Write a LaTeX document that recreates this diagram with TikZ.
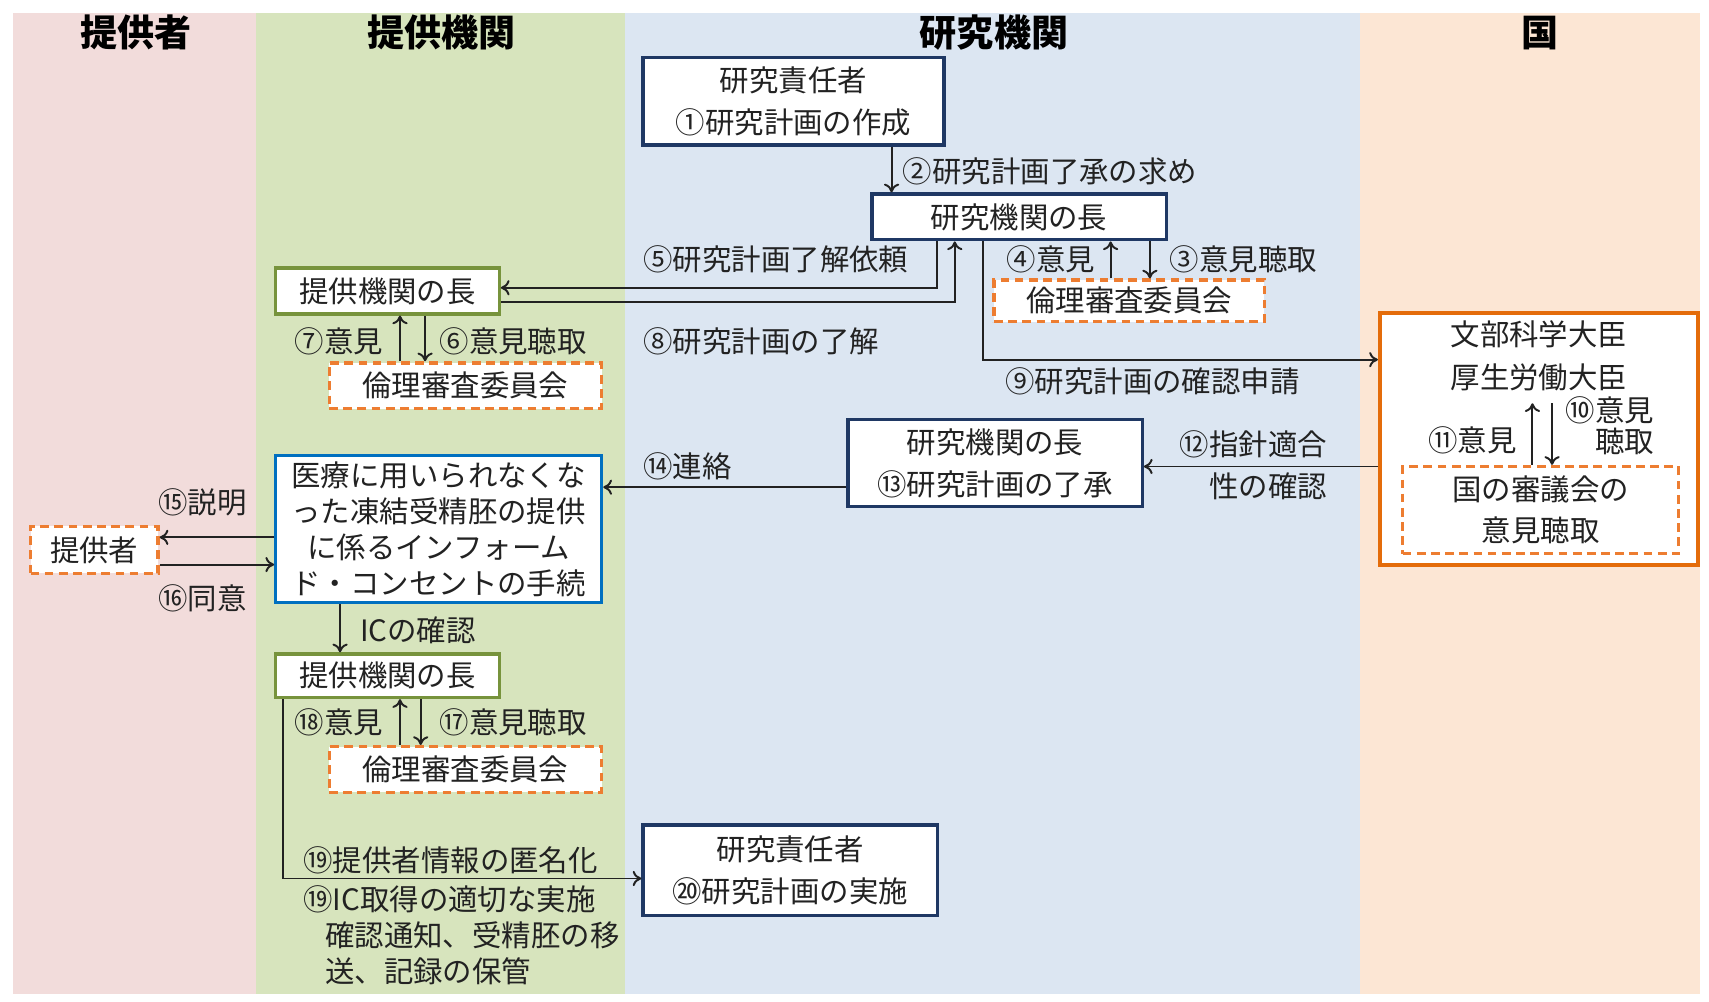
\documentclass[tikz,border=0pt]{standalone}
\usepackage{fontspec}
\newfontfamily\jp{Noto Sans CJK JP}
\usetikzlibrary{arrows.meta}
\definecolor{lanepink}{HTML}{F2DCDB}
\definecolor{lanegreen}{HTML}{D7E4BD}
\definecolor{laneblue}{HTML}{DCE6F2}
\definecolor{laneorange}{HTML}{FCE6D4}
\definecolor{navy}{HTML}{1F3864}
\definecolor{grnb}{HTML}{77933C}
\definecolor{blub}{HTML}{0070C0}
\definecolor{orgb}{HTML}{E46C0A}
\definecolor{orgd}{HTML}{ED7D31}
\definecolor{ink}{HTML}{222222}
\tikzset{
  txt/.style={font=\jp\fontsize{13.5}{19}\selectfont, text=ink, inner sep=0pt},
  hdr/.style={font=\jp\bfseries\fontsize{17}{20}\selectfont, text=black, inner sep=0pt},
  boxbase/.style={txt, fill=white, align=center, inner sep=0pt},
  navybox/.style={boxbase, draw=navy, line width=1.5pt},
  greenbox/.style={boxbase, draw=grnb, line width=1.5pt},
  bluebox/.style={boxbase, draw=blub, line width=1.5pt},
  orangebox/.style={boxbase, draw=orgb, line width=1.8pt},
  dashbox/.style={boxbase, draw=orgd, line width=1.5pt, dash pattern=on 4pt off 2.5pt},
  arr/.style={draw=ink, line width=0.9pt, -{To[length=4pt,width=7pt]}},
}
\begin{document}
\begin{tikzpicture}[x=0.5pt,y=-0.5pt]
\useasboundingbox (0,0) rectangle (1568,919);
\fill[white] (0,0) rectangle (1568,919);
% lanes
\fill[lanepink] (12,12) rectangle (235,912);
\fill[lanegreen] (235,12) rectangle (573,912);
\fill[laneblue] (573,12) rectangle (1248,912);
\fill[laneorange] (1248,12) rectangle (1560,912);
% headers
\node[hdr] (h1) at (125,30) {提供者};
\node[hdr] (h2) at (405,30) {提供機関};
\node[hdr] (h3) at (912,30) {研究機関};
\node[hdr] (h4) at (1413,30) {国};
% boxes
\node[navybox, minimum width=138pt, minimum height=40pt] (rs1) at (728,93) {研究責任者\\①研究計画の作成};
\node[navybox, minimum width=135pt, minimum height=21pt] (hd1) at (935,199) {研究機関の長};
\node[dashbox, minimum width=124pt, minimum height=19pt] (eth1) at (1036,276) {倫理審査委員会};
\node[greenbox, minimum width=102.5pt, minimum height=21pt] (pv1) at (355.5,267) {提供機関の長};
\node[dashbox, minimum width=125pt, minimum height=21pt] (eth2) at (427,354) {倫理審査委員会};
\node[orangebox, minimum width=146pt, minimum height=115.5pt] (min) at (1412,402.5) {};
\node[txt] (minA) at (1412,307) {文部科学大臣};
\node[txt] (minB) at (1412,346) {厚生労働大臣};
\node[dashbox, minimum width=126.5pt, minimum height=40pt] (cnl) at (1413.5,468) {国の審議会の\\意見聴取};
\node[navybox, minimum width=135pt, minimum height=40pt] (hd2) at (913,425) {研究機関の長\\⑬研究計画の了承};
\node[bluebox, minimum width=149.5pt, minimum height=67.5pt, font=\jp\fontsize{13.5}{16.5}\selectfont] (ic) at (402.5,485.5) {医療に用いられなくな\\った凍結受精胚の提供\\に係るインフォーム\\ド・コンセントの手続};
\node[dashbox, minimum width=58.5pt, minimum height=21.5pt] (donor) at (86.5,504.5) {提供者};
\node[greenbox, minimum width=102.5pt, minimum height=20pt] (pv2) at (355.5,620) {提供機関の長};
\node[dashbox, minimum width=125pt, minimum height=21pt] (eth3) at (427,706) {倫理審査委員会};
\node[navybox, minimum width=135pt, minimum height=41.5pt] (rs2) at (725,798.5) {研究責任者\\⑳研究計画の実施};
% helper coordinates
\coordinate (c2) at (818,0);
\coordinate (c5) at (860,264);
\coordinate (c8) at (876,277);
\coordinate (c9) at (902,330);
\coordinate (c4) at (1019,0);
\coordinate (c3) at (1055,0);
\coordinate (c7) at (367,0);
\coordinate (c6) at (390,0);
\coordinate (c11) at (1406,370);
\coordinate (c10) at (1424,370);
\coordinate (c12) at (0,428);
\coordinate (c14) at (0,447);
\coordinate (c15) at (0,493);
\coordinate (c16) at (0,518);
\coordinate (cic) at (312,0);
\coordinate (c18) at (367,0);
\coordinate (c17) at (386,0);
\coordinate (c19) at (260,806);
% connectors
\draw[arr] (c2 |- rs1.south) -- (c2 |- hd1.north);
\draw[arr] (c5 |- hd1.south) -- (c5) -- (c5 -| pv1.east);
\draw[arr] (c8 -| pv1.east) -- (c8) -- (c8 |- hd1.south);
\draw[arr] (c4 |- eth1.north) -- (c4 |- hd1.south);
\draw[arr] (c3 |- hd1.south) -- (c3 |- eth1.north);
\draw[arr] (c9 |- hd1.south) -- (c9) -- (c9 -| min.west);
\draw[arr] (c7 |- eth2.north) -- (c7 |- pv1.south);
\draw[arr] (c6 |- pv1.south) -- (c6 |- eth2.north);
\draw[arr] (c11 |- cnl.north) -- (c11);
\draw[arr] (c10) -- (c10 |- cnl.north);
\draw[arr] (c12 -| min.west) -- (c12 -| hd2.east);
\draw[arr] (c14 -| hd2.west) -- (c14 -| ic.east);
\draw[arr] (c15 -| ic.west) -- (c15 -| donor.east);
\draw[arr] (c16 -| donor.east) -- (c16 -| ic.west);
\draw[arr] (cic |- ic.south) -- (cic |- pv2.north);
\draw[arr] (c18 |- eth3.north) -- (c18 |- pv2.south);
\draw[arr] (c17 |- pv2.south) -- (c17 |- eth3.north);
\draw[arr] (c19 |- pv2.south) -- (c19) -- (c19 -| rs2.west);
% labels
\node[txt, anchor=west] (l2) at (828,157) {②研究計画了承の求め};
\node[txt, anchor=west] (l5) at (590,238) {⑤研究計画了解依頼};
\node[txt, anchor=west] (l8) at (590,313) {⑧研究計画の了解};
\node[txt, anchor=east] (l4) at (1005,238) {④意見};
\node[txt, anchor=west] (l3) at (1073,238) {③意見聴取};
\node[txt, anchor=west] (l9) at (922,350) {⑨研究計画の確認申請};
\node[txt, anchor=east] (l7) at (352,313) {⑦意見};
\node[txt, anchor=west] (l6) at (403,313) {⑥意見聴取};
\node[txt, anchor=east, align=right, font=\jp\fontsize{13.5}{14}\selectfont] (l10) at (1518,390.5) {⑩意見\\聴取};
\node[txt, anchor=east] (l11) at (1392,404) {⑪意見};
\node[txt, anchor=east, align=right] (l12) at (1218,427) {⑫指針適合\\性の確認};
\node[txt, anchor=west] (l14) at (590,428) {⑭連絡};
\node[txt, anchor=west] (l15) at (145,461) {⑮説明};
\node[txt, anchor=west] (l16) at (145,549) {⑯同意};
\node[txt, anchor=west] (lic) at (330,578) {ICの確認};
\node[txt, anchor=east] (l18) at (352,663) {⑱意見};
\node[txt, anchor=west] (l17) at (403,663) {⑰意見聴取};
\node[txt, anchor=west] (l19a) at (278,789) {⑲提供者情報の匿名化};
\node[txt, anchor=north west, align=left, font=\jp\fontsize{13.5}{16.5}\selectfont] (l19b) at (278,812) {⑲IC取得の適切な実施\\\hspace*{10pt}確認通知、受精胚の移\\\hspace*{10pt}送、記録の保管};
\end{tikzpicture}
\end{document}
